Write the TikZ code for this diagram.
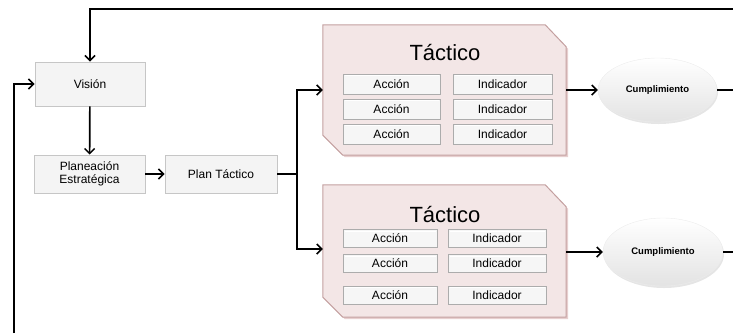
\documentclass[tikz,border=0pt]{standalone}
\usepackage{fontspec}
\setmainfont{Liberation Sans}
\usetikzlibrary{arrows.meta,shapes.geometric,shadows}
\definecolor{tactfill}{RGB}{243,230,230}
\definecolor{tactdraw}{RGB}{196,160,160}
\definecolor{tactshadow}{RGB}{225,195,195}
\begin{document}
\begin{tikzpicture}[x=1pt,y=-1pt,
  conn/.style={line width=1.7pt,black},
  arr/.style={conn,-{Straight Barb[length=5pt,width=10pt,line width=1.5pt]}},
  greybox/.style={draw=gray!45,fill=gray!9,line width=0.9pt,inner sep=0pt,
    align=center,font=\fontsize{12}{13.5}\selectfont},
  tactbox/.style={rectangle,inner sep=0pt,minimum width=243pt},
  tactshape/.style={draw=tactdraw,fill=tactfill,line width=1pt,
    drop shadow={shadow xshift=2pt,shadow yshift=-2pt,fill=tactshadow,opacity=0.8}},
  tacttitle/.style={font=\fontsize{22}{24}\selectfont,inner sep=0pt},
  innerbox/.style={draw=gray!65,fill=gray!7,line width=0.8pt,inner sep=0pt,
    font=\fontsize{12}{13}\selectfont,
    path picture={\draw[white,line width=1pt] ([xshift=1.5pt,yshift=-1.5pt]path picture bounding box.north west) -- ([xshift=-1.5pt,yshift=-1.5pt]path picture bounding box.north east);}},
  cumpl/.style={ellipse,inner sep=0pt,top color=white,bottom color=gray!22,
    draw=gray!15,font=\bfseries\fontsize{9.5}{11}\selectfont,
    drop shadow={shadow xshift=1pt,shadow yshift=-2pt,fill=gray!40,opacity=0.5}}]
\useasboundingbox (0,0) rectangle (733,333);

\node[greybox,minimum width=110pt,minimum height=44pt] (vision) at (90,84) {Visión};
\node[greybox,minimum width=111pt,minimum height=38pt] (plan) at (89.5,174) {Planeación\\Estratégica};
\node[greybox,minimum width=112pt,minimum height=38pt] (ptact) at (221,174) {Plan Táctico};

% Tactico frames (anchor nodes)
\node[tactbox,minimum height=130pt] (tact1) at (444.5,90) {};
\node[tactbox,minimum height=132pt] (tact2) at (444.5,251) {};
\foreach \t in {tact1,tact2}{
  \path[tactshape] (\t.north west) -- ([xshift=-21pt]\t.north east)
    -- ([yshift=-22pt]\t.north east) -- (\t.south east)
    -- ([xshift=20pt]\t.south west) -- ([yshift=20pt]\t.south west) -- cycle;
}

\node[tacttitle] (t1title) at (445,53) {Táctico};
\node[innerbox,minimum width=97pt,minimum height=20pt] (a11) at (391.5,84) {Acción};
\node[innerbox,minimum width=97pt,minimum height=20pt] (a12) at (391.5,109) {Acción};
\node[innerbox,minimum width=97pt,minimum height=20pt] (a13) at (391.5,134) {Acción};
\node[innerbox,minimum width=99pt,minimum height=20pt] (i11) at (502.5,84) {Indicador};
\node[innerbox,minimum width=99pt,minimum height=20pt] (i12) at (502.5,109) {Indicador};
\node[innerbox,minimum width=99pt,minimum height=20pt] (i13) at (502.5,134) {Indicador};

\node[tacttitle] (t2title) at (445,215) {Táctico};
\node[innerbox,minimum width=94pt,minimum height=18pt] (a21) at (390,238.5) {Acción};
\node[innerbox,minimum width=94pt,minimum height=18pt] (a22) at (390,263.5) {Acción};
\node[innerbox,minimum width=94pt,minimum height=18pt] (a23) at (390,295) {Acción};
\node[innerbox,minimum width=98pt,minimum height=18pt] (i21) at (497,238.5) {Indicador};
\node[innerbox,minimum width=98pt,minimum height=18pt] (i22) at (497,263.5) {Indicador};
\node[innerbox,minimum width=98pt,minimum height=18pt] (i23) at (497,295) {Indicador};

\node[cumpl,minimum width=119pt,minimum height=64pt] (c1) at (657.5,90) {Cumplimiento};
\node[cumpl,minimum width=120pt,minimum height=68pt] (c2) at (663,252) {Cumplimiento};

\coordinate (topR) at (733,9);
\coordinate (botL) at (14,333);
\coordinate (split) at (297,174);
\coordinate (c1out) at (733,90);
\coordinate (c2out) at (733,252);

\draw[arr] (topR) -| (vision.north);
\draw[arr] (botL) |- (vision.west);
\draw[arr] (vision) -- (plan);
\draw[arr] (plan) -- (ptact);
\draw[conn] (ptact.east) -- (split);
\draw[arr] (split) |- (tact1.west);
\draw[arr] (split) |- ([yshift=2pt]tact2.west);
\draw[arr] (tact1.east) -- (c1.west);
\draw[arr] (tact2.east |- c2.west) -- (c2.west);
\draw[conn] (c1.east) -- (c1out);
\draw[conn] (c2.east) -- (c2out);
\end{tikzpicture}
\end{document}
